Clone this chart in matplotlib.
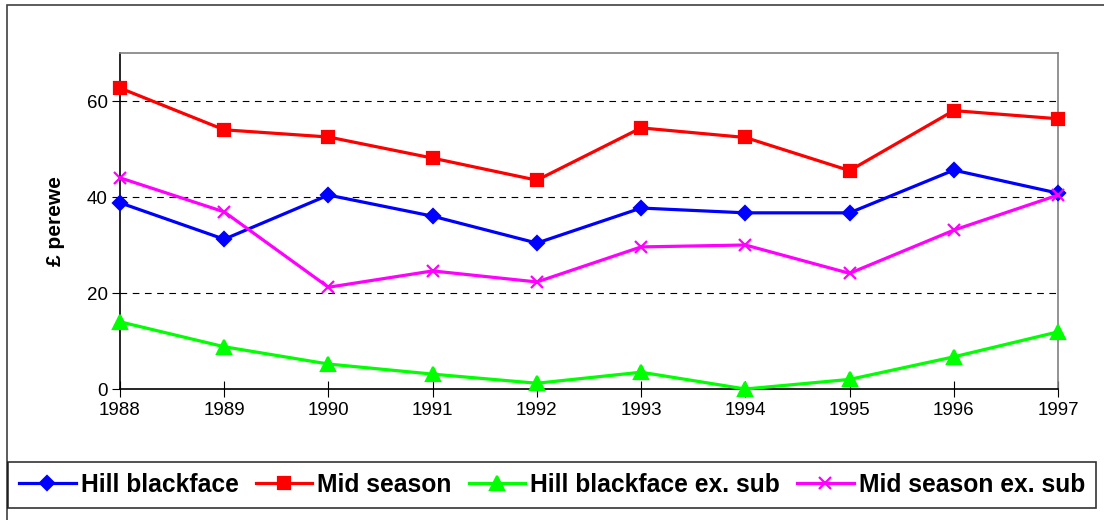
import matplotlib
matplotlib.use("Agg")
import matplotlib.pyplot as plt
from matplotlib.patches import Rectangle

plt.rcParams["font.family"] = ["Liberation Sans", "DejaVu Sans"]

years = [1988, 1989, 1990, 1991, 1992, 1993, 1994, 1995, 1996, 1997]
hill_blackface = [38.8, 31.2, 40.4, 36.0, 30.4, 37.7, 36.7, 36.7, 45.6, 40.8]
mid_season = [62.7, 54.0, 52.5, 48.1, 43.5, 54.4, 52.4, 45.5, 58.0, 56.3]
hill_ex_sub = [14.0, 8.8, 5.2, 3.1, 1.2, 3.5, 0.0, 2.0, 6.7, 11.9]
mid_ex_sub = [44.0, 36.9, 21.2, 24.6, 22.3, 29.6, 30.0, 24.1, 33.1, 40.4]

series = [
    ("Hill blackface", hill_blackface, "#0000ff", "D", 7.5),
    ("Mid season", mid_season, "#ff0000", "s", 9),
    ("Hill blackface ex. sub", hill_ex_sub, "#00ff00", "^", 9.5),
    ("Mid season ex. sub", mid_ex_sub, "#ff00ff", "x", 9),
]

fig = plt.figure(figsize=(11.04, 5.2), dpi=100)
ax = fig.add_axes([120 / 1104, 131 / 520, 938 / 1104, 336 / 520])

for label, vals, color, marker, ms in series:
    ax.plot(years, vals, color=color, lw=2.3, marker=marker, ms=ms,
            mew=1.6, label=label, clip_on=False, zorder=3)

ax.set_xlim(1988, 1997)
ax.set_ylim(0, 70)
ax.set_xticks(years)
ax.set_yticks([0, 20, 40, 60])
ax.tick_params(axis="x", direction="inout", length=11, labelsize=13.5, pad=4)
ax.tick_params(axis="y", direction="out", length=6, labelsize=13.5, pad=3)
for y in [20, 40, 60]:
    ax.axhline(y, color="black", lw=0.8, ls=(0, (6, 5)), zorder=1)
ax.spines["top"].set_color("#808080")
ax.spines["right"].set_color("#808080")
ax.spines["left"].set_color("black")
ax.spines["bottom"].set_color("black")
for s in ax.spines.values():
    s.set_linewidth(1.2)
ax.set_ylabel("£ perewe", fontsize=15, fontweight="bold")
ax.yaxis.set_label_coords(-55 / 938, 0.5)

leg = fig.legend(loc="center", bbox_to_anchor=(552 / 1104, 1 - 485 / 520),
                 ncol=4, prop={"weight": "bold", "size": 17.7},
                 frameon=True, fancybox=False, edgecolor="black",
                 handlelength=2.3, handletextpad=0.2, columnspacing=0.7,
                 borderpad=0.45, borderaxespad=0)
leg.get_frame().set_linewidth(1.2)

fig.patches.append(Rectangle((7 / 1104, -0.1), 1.1, 1.1 - 5 / 520,
                             transform=fig.transFigure, fill=False,
                             edgecolor="#404040", lw=1.2))

fig.savefig("out.png", dpi=100)
